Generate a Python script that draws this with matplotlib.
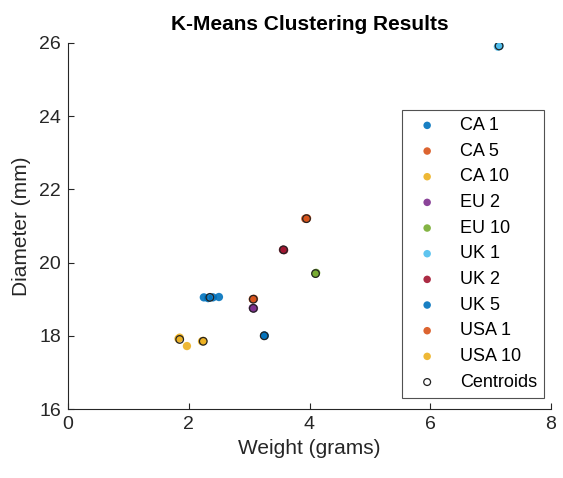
import matplotlib.pyplot as plt
import numpy as np

# MATLAB default colour order
colors = ['#0072BD', '#D95319', '#EDB120', '#7E2F8E', '#77AC30',
          '#4DBEEE', '#A2142F', '#0072BD', '#D95319', '#EDB120']

labels = ['CA 1', 'CA 5', 'CA 10', 'EU 2', 'EU 10',
          'UK 1', 'UK 2', 'UK 5', 'USA 1', 'USA 10']

# weights (g) and diameters (mm) per coin type
weights = [
    [2.25, 2.32, 2.40, 2.50],      # CA 1
    [3.06, 3.08],                  # CA 5
    [1.85, 1.97, 2.22],            # CA 10
    [3.06, 3.08],                  # EU 2
    [4.10, 4.11],                  # EU 10
    [7.12, 7.15],                  # UK 1
    [3.56, 3.58],                  # UK 2
    [3.25, 3.26],                  # UK 5
    [3.93, 3.96],                  # USA 1
    [1.83, 2.24],                  # USA 10
]
diameters = [
    [19.05, 19.03, 19.05, 19.06],
    [19.00, 19.01],
    [17.95, 17.72, 17.85],
    [18.76, 18.75],
    [19.70, 19.72],
    [25.90, 25.92],
    [20.35, 20.34],
    [18.01, 18.00],
    [21.20, 21.21],
    [17.92, 17.86],
]

cent_x = [2.35, 1.85, 2.24, 3.07, 3.07, 3.25, 3.57, 3.95, 4.10, 7.14]
cent_y = [19.05, 17.90, 17.85, 19.00, 18.75, 18.00, 20.35, 21.20, 19.70, 25.92]

plt.rcParams['font.family'] = ['Arial', 'Liberation Sans', 'DejaVu Sans']

fig = plt.figure(figsize=(5.63, 4.78), dpi=100)
ax = fig.add_axes([68/563, (478-409)/478, (551-68)/563, (409-43)/478])

for lab, c, wx, dy in zip(labels, colors, weights, diameters):
    ax.scatter(wx, dy, s=36, color=c, edgecolors='none', label=lab, zorder=2, alpha=0.9)

ax.scatter(cent_x, cent_y, s=30, facecolors='none', edgecolors='#222222',
           linewidths=0.9, label='Centroids', zorder=3)

ax.set_xlim(0, 8)
ax.set_ylim(16, 26)
ax.set_xticks([0, 2, 4, 6, 8])
ax.set_yticks([16, 18, 20, 22, 24, 26])
ax.spines['top'].set_visible(False)
ax.spines['right'].set_visible(False)
for s in ['left', 'bottom']:
    ax.spines[s].set_color('#262626')
    ax.spines[s].set_linewidth(0.8)
ax.tick_params(direction='in', labelsize=14, colors='#262626', length=4, pad=5)

ax.set_xlabel('Weight (grams)', fontsize=15, color='#262626', labelpad=4)
ax.set_ylabel('Diameter (mm)', fontsize=15, color='#262626', labelpad=6)
ax.set_title('K-Means Clustering Results', fontsize=15, fontweight='bold', pad=9)

leg = ax.legend(loc='lower right', bbox_to_anchor=(544/563, (478-398)/478),
                bbox_transform=fig.transFigure, fontsize=13, frameon=True,
                fancybox=False, edgecolor='#262626', handletextpad=0.8,
                labelspacing=0.48, borderpad=0.4, borderaxespad=0, markerscale=0.9)
leg.get_frame().set_linewidth(0.8)

plt.savefig('out.png', dpi=100)
